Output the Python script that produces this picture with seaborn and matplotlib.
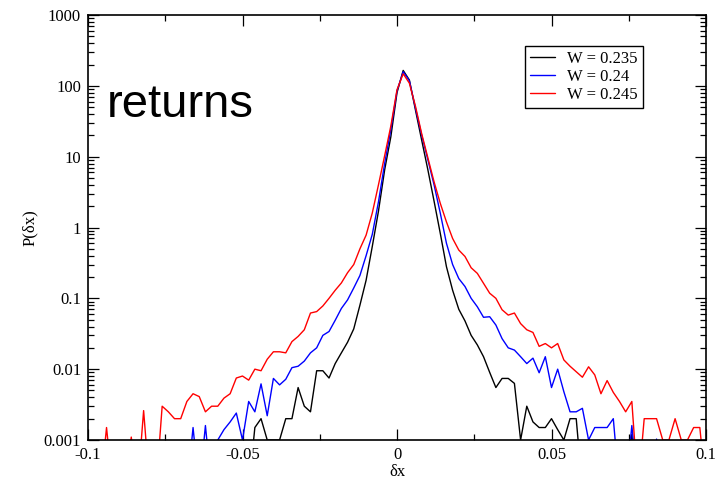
import numpy as np
import pandas as pd
import matplotlib
matplotlib.use("Agg")
import matplotlib.pyplot as plt
import seaborn as sns
from matplotlib.ticker import FixedLocator, LogLocator, NullFormatter

# ---------------- data ----------------
dx = np.round(np.arange(-0.1, 0.1001, 0.002), 3)

p_w0235 = [0, 0, 0, 0, 0, 0, 0, 0, 0, 0,
           0, 0, 0, 0, 0, 0, 0, 0, 0, 0,
           0, 0, 0, 0, 0, 0, 0, 0.0015, 0.002, 0.001,
           0.001, 0.001, 0.002, 0.002, 0.0055, 0.003, 0.0025, 0.0095, 0.0095, 0.0075,
           0.012, 0.017, 0.024, 0.037, 0.08, 0.18, 0.54, 1.7, 6.5, 19,
           80, 165, 121, 45, 17, 6.5, 2.35, 0.83, 0.28, 0.13,
           0.07, 0.048, 0.03, 0.022, 0.015, 0.009, 0.0055, 0.0074, 0.0074, 0.0063,
           0.001, 0.003, 0.0018, 0.0015, 0.0015, 0.002, 0.0014, 0.001, 0.002, 0.002,
           0, 0, 0, 0, 0, 0, 0, 0, 0.0012, 0,
           0, 0, 0, 0, 0, 0, 0, 0, 0, 0,
           0]

p_w0240 = [0, 0, 0, 0, 0, 0, 0, 0, 0, 0,
           0, 0, 0, 0, 0, 0, 0, 0.0015, 0, 0.0016,
           0, 0.001, 0.0014, 0.0018, 0.0024, 0.001, 0.0035, 0.0025, 0.0062, 0.0022,
           0.0074, 0.006, 0.0072, 0.0105, 0.011, 0.013, 0.017, 0.02, 0.030, 0.034,
           0.049, 0.072, 0.095, 0.14, 0.21, 0.4, 0.8, 2.3, 8, 24,
           85, 158, 118, 48, 20, 9, 4, 1.6, 0.6, 0.3,
           0.19, 0.147, 0.1, 0.076, 0.054, 0.055, 0.042, 0.027, 0.020, 0.0186,
           0.015, 0.012, 0.0143, 0.0089, 0.015, 0.0055, 0.01, 0.0048, 0.0025, 0.0025,
           0.0028, 0.001, 0.0015, 0.0015, 0.0015, 0.002, 0, 0, 0.0016, 0,
           0, 0, 0.00103, 0, 0, 0, 0, 0, 0, 0,
           0]

p_w0245 = [0, 0, 0, 0.0015, 0, 0, 0, 0.0011, 0, 0.0026,
           0, 0, 0.003, 0.0025, 0.002, 0.002, 0.0035, 0.0045, 0.0041, 0.0025,
           0.003, 0.003, 0.0039, 0.0045, 0.0075, 0.008, 0.007, 0.01, 0.0095, 0.0138,
           0.0176, 0.0176, 0.017, 0.0245, 0.029, 0.036, 0.062, 0.065, 0.078, 0.10,
           0.13, 0.165, 0.23, 0.30, 0.50, 0.78, 1.6, 4.0, 10.3, 27,
           88, 148, 109, 51, 21, 9.6, 4.4, 2.2, 1.2, 0.7,
           0.48, 0.39, 0.27, 0.225, 0.163, 0.118, 0.10, 0.069, 0.058, 0.062,
           0.044, 0.036, 0.033, 0.021, 0.023, 0.020, 0.023, 0.0135, 0.011, 0.0092,
           0.0077, 0.0108, 0.0083, 0.0045, 0.0069, 0.0047, 0.0035, 0.0025, 0.0035, 0,
           0.002, 0.002, 0.002, 0.001, 0.001, 0.002, 0.001, 0.001, 0.0015, 0.0015,
           0]

series_labels = ["W = 0.235", "W = 0.24", "W = 0.245"]
series_colors = ["#000000", "#0000ff", "#ff0000"]

x_ticks = [-0.1, -0.05, 0, 0.05, 0.1]
x_tick_labels = ["-0.1", "-0.05", "0", "0.05", "0.1"]
x_minor = [-0.075, -0.025, 0.025, 0.075]
y_ticks = [0.001, 0.01, 0.1, 1, 10, 100, 1000]
y_tick_labels = ["0.001", "0.01", "0.1", "1", "10", "100", "1000"]

# ---------------- figure ----------------
sns.set_style("ticks")
plt.rcParams["font.family"] = ["Liberation Serif", "DejaVu Serif"]
plt.rcParams["text.color"] = "black"
plt.rcParams["axes.labelcolor"] = "black"
plt.rcParams["xtick.color"] = "black"
plt.rcParams["ytick.color"] = "black"

fig = plt.figure(figsize=(7.27, 4.82), dpi=100)
ax = fig.add_axes([88 / 727, 42 / 482, 618 / 727, 425 / 482])

floor = 2e-4  # zero counts drop below the axis
frames = []
for vals, lab in zip([p_w0235, p_w0240, p_w0245], series_labels):
    v = np.asarray(vals, dtype=float)
    frames.append(pd.DataFrame({"dx": dx, "P": np.where(v > 0, v, floor), "W": lab}))
df = pd.concat(frames, ignore_index=True)

sns.lineplot(data=df, x="dx", y="P", hue="W", hue_order=series_labels,
             palette=dict(zip(series_labels, series_colors)),
             estimator=None, linewidth=1.0, ax=ax)

ax.set_yscale("log")
ax.set_xlim(-0.1, 0.1)
ax.set_ylim(1e-3, 1e3)

ax.xaxis.set_major_locator(FixedLocator(x_ticks))
ax.set_xticklabels(x_tick_labels)
ax.xaxis.set_minor_locator(FixedLocator(x_minor))
ax.yaxis.set_major_locator(FixedLocator(y_ticks))
ax.set_yticklabels(y_tick_labels)
ax.yaxis.set_minor_locator(LogLocator(base=10, subs=np.arange(2, 10)))
ax.yaxis.set_minor_formatter(NullFormatter())

ax.tick_params(which="both", direction="in", top=True, right=True, width=0.9,
               labelsize=12, colors="black")
ax.tick_params(which="major", length=8, pad=5)
ax.tick_params(which="minor", length=4.2)
for s in ax.spines.values():
    s.set_linewidth(1.2)
    s.set_color("black")

ax.set_xlabel("δx", fontsize=12, labelpad=1, color="black")
ax.set_ylabel("P(δx)", fontsize=12, labelpad=4, color="black")

ax.text(0.0307, 0.76, "returns", transform=ax.transAxes, fontsize=34, color="black",
        family=["Liberation Sans", "DejaVu Sans"], va="baseline", ha="left")

handles, labels = ax.get_legend_handles_labels()
leg = ax.legend(handles, labels, loc="upper right", bbox_to_anchor=(0.8976, 0.928),
                frameon=True, fancybox=False, edgecolor="black", framealpha=1,
                handlelength=1.5, handletextpad=0.75, labelspacing=0.12,
                borderpad=0.3, borderaxespad=0, fontsize=12)
leg.get_frame().set_linewidth(1.0)
for t in leg.get_texts():
    t.set_color("black")

fig.savefig("out.png", dpi=100)
